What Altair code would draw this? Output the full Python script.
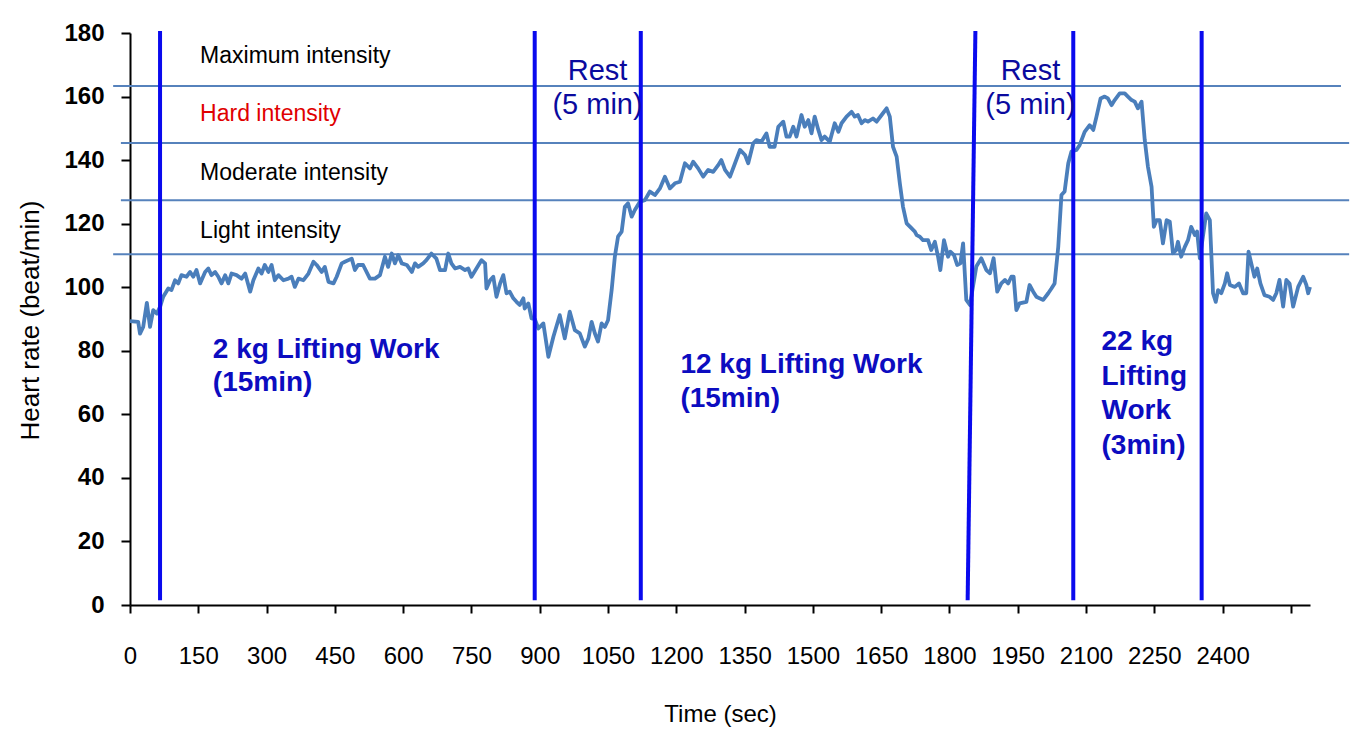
import altair as alt
import pandas as pd

# ---- heart-rate trace (time in s, heart rate in beat/min) ----
seg_2kg = [(0, 89.3), (18, 89.1), (22, 85.4), (29, 87.5), (37, 95.1), (44, 87.5), (51, 92.8), (59, 91.7),
           (66, 93.8), (73, 97.0), (84, 99.6), (91, 99.1), (99, 102.2), (106, 101.2), (113, 103.8),
           (124, 103.3), (132, 104.8), (139, 103.3), (146, 105.4), (154, 101.2), (165, 104.8),
           (172, 105.9), (179, 103.8), (187, 104.8), (194, 103.3), (201, 101.2), (209, 103.8),
           (216, 101.2), (223, 104.3), (234, 103.8), (245, 102.7), (253, 104.3), (264, 98.6),
           (271, 102.2), (282, 105.9), (289, 104.3), (296, 107.0), (304, 104.8), (311, 107.0),
           (318, 102.2), (326, 103.8), (337, 102.2), (348, 102.7), (355, 103.3), (362, 100.1),
           (370, 102.7), (381, 102.2), (392, 104.3), (403, 108.0), (410, 107.0), (421, 104.8),
           (428, 106.4), (436, 101.7), (447, 101.2), (454, 103.3), (465, 107.5), (472, 108.0),
           (487, 109.0), (494, 105.4), (501, 107.0), (512, 107.0), (527, 102.7), (538, 102.7),
           (549, 103.8), (560, 109.6), (567, 106.4), (575, 110.6), (582, 107.5), (589, 110.1),
           (597, 107.5), (608, 107.0), (619, 104.8), (626, 107.5), (633, 106.4), (644, 107.5),
           (651, 108.5), (662, 110.6), (673, 109.0), (681, 105.4), (692, 105.4), (699, 110.6),
           (706, 107.5), (714, 105.9), (725, 106.4), (736, 105.4), (743, 105.9), (750, 103.3),
           (761, 105.9), (772, 108.5), (780, 107.5), (783, 99.6), (791, 102.2), (798, 103.3),
           (805, 97.0), (813, 101.2), (820, 103.8), (827, 98.1), (834, 98.6), (842, 96.5),
           (849, 95.4), (856, 94.4), (864, 96.5), (867, 93.3), (875, 94.9), (882, 90.2), (889, 90.0)]

seg_rest1_12kg = [(897, 87.0), (908, 88.6), (919, 78.1), (930, 84.4), (944, 91.2), (955, 83.9),
                  (966, 92.3), (977, 86.5), (988, 85.5), (999, 81.3), (1007, 83.9), (1014, 89.1),
                  (1021, 85.5), (1028, 82.9), (1036, 88.6), (1043, 87.5), (1050, 89.6), (1058, 99.1),
                  (1065, 109.6), (1072, 115.9), (1080, 117.5), (1087, 125.3), (1094, 126.4),
                  (1102, 122.2), (1109, 124.3), (1120, 126.9), (1131, 127.4), (1142, 130.1),
                  (1153, 129.0), (1164, 131.1), (1175, 134.8), (1186, 131.1), (1197, 132.7),
                  (1208, 133.2), (1219, 139.0), (1230, 137.4), (1237, 139.5), (1248, 137.4),
                  (1259, 134.8), (1270, 136.9), (1281, 136.3), (1292, 138.4), (1299, 140.0),
                  (1307, 136.9), (1318, 134.8), (1329, 139.0), (1340, 143.2), (1351, 141.6),
                  (1358, 139.0), (1369, 145.3), (1376, 146.3), (1387, 145.8), (1398, 148.4),
                  (1405, 144.2), (1416, 144.2), (1424, 150.5), (1435, 152.1), (1442, 147.4),
                  (1449, 147.4), (1457, 150.5), (1464, 147.4), (1475, 154.2), (1482, 150.5),
                  (1490, 152.6), (1497, 148.4), (1504, 153.7), (1512, 149.5), (1519, 146.3),
                  (1526, 147.4), (1537, 145.8), (1548, 151.6), (1556, 148.9), (1563, 151.6),
                  (1574, 153.7), (1585, 155.2), (1592, 153.7), (1599, 154.2), (1607, 151.6),
                  (1614, 152.6), (1621, 152.1), (1632, 153.1), (1640, 152.1), (1651, 154.2),
                  (1662, 156.3), (1669, 153.7), (1676, 144.2), (1684, 141.1), (1691, 132.7),
                  (1698, 125.3), (1706, 120.1), (1717, 118.5), (1724, 117.5), (1728, 116.4),
                  (1735, 115.9)]

seg_rest2_22kg = [(1742, 114.8), (1753, 114.8), (1760, 111.7), (1768, 114.3), (1775, 109.6),
                  (1780, 105.4), (1788, 114.8), (1797, 109.6), (1802, 111.2), (1810, 110.1),
                  (1817, 107.0), (1824, 107.5), (1830, 113.8), (1837, 96.0), (1845, 94.4),
                  (1859, 106.5), (1870, 109.1), (1881, 105.4), (1889, 104.4), (1897, 109.1),
                  (1905, 98.6), (1914, 101.2), (1922, 102.3), (1929, 101.2), (1936, 103.3),
                  (1941, 103.3), (1947, 92.8), (1954, 94.9), (1969, 95.4), (1976, 100.7),
                  (1984, 98.6), (1991, 97.0), (1998, 96.5), (2006, 96.0), (2017, 98.1),
                  (2024, 99.6), (2031, 101.2), (2039, 112.7), (2046, 129.0), (2053, 130.1),
                  (2061, 139.0), (2068, 142.7), (2079, 143.2), (2086, 144.7), (2097, 148.9),
                  (2108, 151.0), (2116, 149.5), (2123, 153.7), (2132, 159.4), (2141, 160.0),
                  (2148, 159.4), (2156, 157.3), (2163, 158.9), (2174, 161.0), (2185, 161.0),
                  (2192, 160.0), (2200, 158.9), (2207, 158.4), (2214, 156.3), (2222, 158.4),
                  (2229, 146.3), (2236, 137.9), (2244, 131.6), (2249, 119.0), (2255, 121.1),
                  (2262, 121.1), (2269, 113.8), (2277, 121.1), (2284, 120.6), (2291, 110.7),
                  (2298, 111.7), (2302, 114.3), (2309, 109.6), (2317, 112.7), (2324, 114.8),
                  (2331, 119.0), (2339, 116.4), (2344, 117.5), (2350, 109.1), (2364, 123.2),
                  (2372, 121.1), (2379, 98.1), (2385, 95.4), (2390, 99.1), (2397, 98.1),
                  (2405, 101.2), (2410, 104.4), (2416, 100.7), (2427, 100.1), (2436, 101.2),
                  (2445, 98.1), (2452, 98.1), (2457, 111.2), (2463, 107.5), (2470, 103.3),
                  (2476, 105.9), (2483, 101.2), (2492, 97.5), (2503, 97.0), (2511, 96.0),
                  (2518, 98.1), (2525, 102.3), (2533, 93.9), (2540, 102.3), (2547, 101.2),
                  (2555, 93.9), (2566, 100.1), (2577, 103.3), (2584, 100.7), (2588, 98.1),
                  (2592, 100.1)]

# intensity zone boundaries (beat/min) and the x-extent of each drawn line (s)
zone_levels = [163.3, 145.4, 127.4, 110.4]
zone_x_start = [-37, -20, -20, -37]
zone_x_end = [2660, 2678, 2678, 2678]

zone_labels = ["Maximum intensity", "Hard intensity", "Moderate intensity", "Light intensity"]
zone_label_y = [172.8, 154.5, 135.9, 117.7]
zone_label_color = ["black", "#E00000", "black", "black"]

# phase boundary markers (s): time at the bottom and at the top of each line
phase_t_bottom = [66, 889, 1122, 1840, 2072, 2354]
phase_t_top = [66, 889, 1122, 1857, 2072, 2354]

rest_lines = ["Rest", "(5 min)", "Rest", "(5 min)"]
rest_t = [1027, 1027, 1978, 1978]
rest_y = [168.0, 157.3, 168.0, 157.3]

work_lines = ["2 kg Lifting Work", "(15min)", "12 kg Lifting Work", "(15min)",
              "22 kg", "Lifting", "Work", "(3min)"]
work_t = [182, 182, 1209, 1209, 2134, 2134, 2134, 2134]
work_y = [80.2, 69.9, 75.5, 64.8, 82.8, 71.7, 61.0, 50.0]

# ---- tables ----
trace = pd.DataFrame(seg_2kg + seg_rest1_12kg + seg_rest2_22kg, columns=["t", "hr"])
zones = pd.DataFrame({"y": zone_levels, "x1": zone_x_start, "x2": zone_x_end})
zlab = pd.DataFrame({"text": zone_labels, "y": zone_label_y, "c": zone_label_color,
                     "t": [154] * 4})
phases = pd.DataFrame({"x1": phase_t_bottom, "x2": phase_t_top,
                       "y1": [1.5] * 6, "y2": [180.6] * 6})
rest = pd.DataFrame({"text": rest_lines, "t": rest_t, "y": rest_y})
work = pd.DataFrame({"text": work_lines, "t": work_t, "y": work_y})

FONT = "Liberation Sans"

xscale = alt.Scale(domain=[0, 2592], nice=False, zero=False)
yscale = alt.Scale(domain=[0, 180], nice=False)

xaxis = alt.Axis(values=list(range(0, 2551, 150)), format="d",
                 labelExpr="datum.value <= 2400 ? datum.label : ''",
                 grid=False, domainColor="black", domainWidth=2, tickColor="black",
                 tickWidth=2, tickSize=8, labelFont=FONT, labelFontSize=24,
                 labelColor="black", labelPadding=31, labelFlush=False,
                 title="Time (sec)", titleFont=FONT, titleFontSize=24,
                 titleFontWeight="normal", titleColor="black", titleX=590, titleY=109,
                 titleBaseline="middle", titleAlign="center")
yaxis = alt.Axis(values=list(range(0, 181, 20)), grid=False, domainColor="black",
                 domainWidth=2, tickColor="black", tickWidth=2, tickSize=9,
                 labelFont=FONT, labelFontSize=24, labelFontWeight="bold",
                 labelColor="black", labelPadding=17,
                 title="Heart rate (beat/min)", titleFont=FONT, titleFontSize=26,
                 titleFontWeight="normal", titleColor="black", titleX=-100, titleY=287,
                 titleBaseline="middle", titleAlign="center", titleAngle=-90)

zone_rules = alt.Chart(zones).mark_rule(color="#5682BC", strokeWidth=2).encode(
    x=alt.X("x1:Q", scale=xscale, axis=xaxis),
    x2="x2:Q",
    y=alt.Y("y:Q", scale=yscale, axis=yaxis),
)

line = alt.Chart(trace).mark_line(color="#4A7EBB", strokeWidth=3.8, strokeJoin="round").encode(
    x=alt.X("t:Q", scale=xscale),
    y=alt.Y("hr:Q", scale=yscale),
)

phase_rules = alt.Chart(phases).mark_rule(color="#0A0AEE", strokeWidth=4).encode(
    x=alt.X("x1:Q", scale=xscale), x2="x2:Q",
    y=alt.Y("y1:Q", scale=yscale), y2="y2:Q",
)

zone_text = alt.Chart(zlab).mark_text(font=FONT, fontSize=23, align="left",
                                      baseline="middle").encode(
    x=alt.X("t:Q", scale=xscale), y=alt.Y("y:Q", scale=yscale), text="text:N",
    color=alt.Color("c:N", scale=None),
)

rest_text = alt.Chart(rest).mark_text(font=FONT, fontSize=29, align="center",
                                      baseline="middle", color="#0A0A9E").encode(
    x=alt.X("t:Q", scale=xscale), y=alt.Y("y:Q", scale=yscale), text="text:N",
)

work_text = alt.Chart(work).mark_text(font=FONT, fontSize=28, fontWeight="bold",
                                      align="left", baseline="middle",
                                      color="#0C0CC0").encode(
    x=alt.X("t:Q", scale=xscale), y=alt.Y("y:Q", scale=yscale), text="text:N",
)

chart = alt.layer(zone_rules, line, phase_rules, zone_text, rest_text, work_text).properties(
    width=1180, height=572,
    autosize=alt.AutoSizeParams(type="none"),
    padding={"left": 130, "top": 33, "right": 42, "bottom": 139},
    background="white",
).configure_view(stroke=None)

chart.save("out.html", embed_options={"renderer": "svg", "actions": False})
